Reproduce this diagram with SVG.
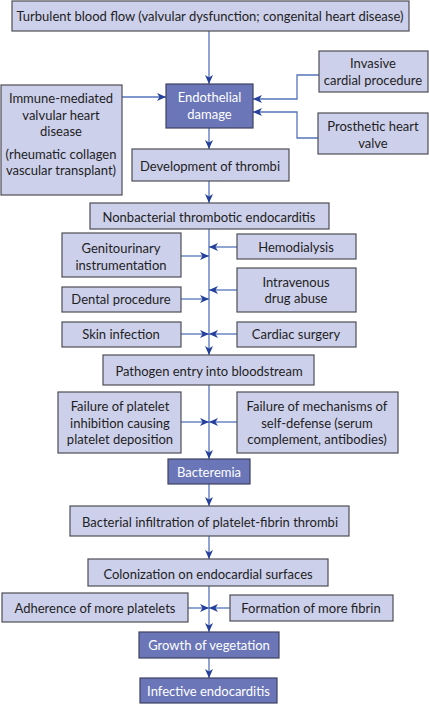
<svg xmlns="http://www.w3.org/2000/svg" width="429" height="704" viewBox="0 0 429 704">
<defs>
<marker id="ah" markerUnits="userSpaceOnUse" markerWidth="10" markerHeight="8" refX="9" refY="4" orient="auto">
<path d="M0,0 L9,4 L0,8 L2.5,4 Z" fill="#24409a"/>
</marker>
<style>
.b rect{fill:#cdd0ea;stroke:#4d4d55;stroke-width:1.2}
.d rect{fill:#6a76b8;stroke:#3f4160;stroke-width:1.2}
text{font-family:Lato,"Liberation Sans",sans-serif;font-size:13px;text-anchor:middle;fill:#1e1e24}
.d text{fill:#ffffff}
#conn path{fill:none;stroke:#5574bb;stroke-width:1.3}
</style>
</defs>
<rect width="429" height="704" fill="#ffffff"/>
<g id="conn">
<path d="M209,31 V84" marker-end="url(#ah)"/>
<path d="M122,97 H166" marker-end="url(#ah)"/>
<path d="M319,75 H297 V99 H253" marker-end="url(#ah)"/>
<path d="M318,138 H297 V112 H253" marker-end="url(#ah)"/>
<path d="M209,128 V149" marker-end="url(#ah)"/>
<path d="M209,181 V203" marker-end="url(#ah)"/>
<path d="M209,229 V355" marker-end="url(#ah)"/>
<path d="M181,256 H209" marker-end="url(#ah)"/>
<path d="M237,247 H209" marker-end="url(#ah)"/>
<path d="M237,290 H209" marker-end="url(#ah)"/>
<path d="M181,299 H209" marker-end="url(#ah)"/>
<path d="M181,334 H209" marker-end="url(#ah)"/>
<path d="M237,334 H209" marker-end="url(#ah)"/>
<path d="M209,385 V459" marker-end="url(#ah)"/>
<path d="M181,422 H209" marker-end="url(#ah)"/>
<path d="M237,422 H209" marker-end="url(#ah)"/>
<path d="M209,484 V506" marker-end="url(#ah)"/>
<path d="M209,536 V559" marker-end="url(#ah)"/>
<path d="M209,586 V632" marker-end="url(#ah)"/>
<path d="M188,608 H209" marker-end="url(#ah)"/>
<path d="M230,608 H209" marker-end="url(#ah)"/>
<path d="M209,658 V678" marker-end="url(#ah)"/>
</g>
<g id="n1" class="b"><rect x="12" y="1" width="397" height="30"/><text x="210" y="20.5">Turbulent blood flow (valvular dysfunction; congenital heart disease)</text></g>
<g id="n2" class="d"><rect x="166" y="84" width="87" height="44"/><text x="209.5" y="101.5">Endothelial</text><text x="209.5" y="118.5">damage</text></g>
<g id="n3" class="b"><rect x="1" y="85" width="121" height="110"/><text x="61" y="102.5">Immune-mediated</text><text x="61" y="119.5">valvular heart</text><text x="61" y="135.5">disease</text><text x="61" y="158.5">(rheumatic collagen</text><text x="61" y="174.5">vascular transplant)</text></g>
<g id="n4" class="b"><rect x="319" y="51" width="109" height="41"/><text x="373" y="67.5">Invasive</text><text x="373" y="84.5">cardial procedure</text></g>
<g id="n5" class="b"><rect x="318" y="113" width="110" height="41"/><text x="373" y="130.5">Prosthetic heart</text><text x="373" y="147.5">valve</text></g>
<g id="n6" class="b"><rect x="132" y="149" width="157" height="32"/><text x="210" y="170.5">Development of thrombi</text></g>
<g id="n7" class="b"><rect x="90" y="203" width="239" height="26"/><text x="209" y="221.5">Nonbacterial thrombotic endocarditis</text></g>
<g id="n8" class="b"><rect x="62" y="233" width="119" height="44"/><text x="121" y="252.5">Genitourinary</text><text x="121" y="269.5">instrumentation</text></g>
<g id="n9" class="b"><rect x="237" y="234" width="119" height="25"/><text x="296" y="251.5">Hemodialysis</text></g>
<g id="n10" class="b"><rect x="237" y="268" width="119" height="44"/><text x="296" y="286.5">Intravenous</text><text x="296" y="302.5">drug abuse</text></g>
<g id="n11" class="b"><rect x="62" y="287" width="119" height="25"/><text x="121" y="303.5">Dental procedure</text></g>
<g id="n12" class="b"><rect x="62" y="322" width="119" height="25"/><text x="121" y="338.5">Skin infection</text></g>
<g id="n13" class="b"><rect x="237" y="322" width="119" height="25"/><text x="296" y="338.5">Cardiac surgery</text></g>
<g id="n14" class="b"><rect x="103" y="355" width="211" height="30"/><text x="209" y="375.5">Pathogen entry into bloodstream</text></g>
<g id="n15" class="b"><rect x="58" y="392" width="123" height="61"/><text x="120" y="410.5">Failure of platelet</text><text x="120" y="427.5">inhibition causing</text><text x="120" y="443.5">platelet deposition</text></g>
<g id="n16" class="b"><rect x="237" y="392" width="161" height="61"/><text x="317" y="410.5">Failure of mechanisms of</text><text x="317" y="427.5">self-defense (serum</text><text x="317" y="443.5">complement, antibodies)</text></g>
<g id="n17" class="d"><rect x="168" y="459" width="82" height="25"/><text x="209" y="476.5">Bacteremia</text></g>
<g id="n18" class="b"><rect x="70" y="506" width="279" height="30"/><text x="210" y="526.5">Bacterial infiltration of platelet-fibrin thrombi</text></g>
<g id="n19" class="b"><rect x="88" y="559" width="240" height="27"/><text x="208" y="578.5">Colonization on endocardial surfaces</text></g>
<g id="n20" class="b"><rect x="2" y="593" width="186" height="29"/><text x="95" y="612.5">Adherence of more platelets</text></g>
<g id="n21" class="b"><rect x="230" y="595" width="163" height="26"/><text x="311" y="612.5">Formation of more fibrin</text></g>
<g id="n22" class="d"><rect x="139" y="632" width="140" height="26"/><text x="209" y="649.5">Growth of vegetation</text></g>
<g id="n23" class="d"><rect x="140" y="678" width="137" height="25"/><text x="208.5" y="695.5">Infective endocarditis</text></g>
</svg>
